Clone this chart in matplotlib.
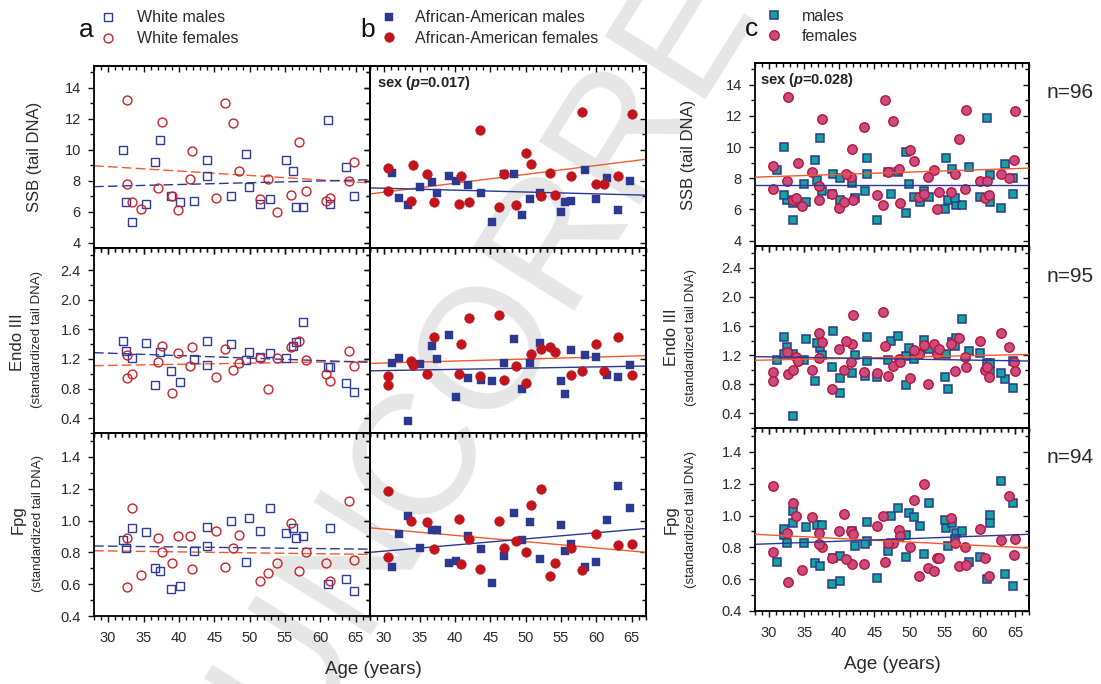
import numpy as np
import matplotlib
matplotlib.use("Agg")
import matplotlib.pyplot as plt
from matplotlib.ticker import MultipleLocator, FormatStrFormatter

plt.rcParams['font.family'] = 'Liberation Sans'
plt.rcParams['mathtext.fontset'] = 'custom'
plt.rcParams['mathtext.it'] = 'Liberation Sans:italic:bold'
plt.rcParams['mathtext.rm'] = 'Liberation Sans:bold'

# ---------------------------------------------------------------- data
# White males
wm_age = [32.1, 32.5, 33.4, 35.3, 36.6, 37.3, 38.9, 40.1, 42.2, 43.9, 44.0, 47.4,
          49.5, 49.9, 51.5, 52.8, 55.2, 56.1, 56.6, 57.5, 61.0, 61.4, 63.6, 64.7]
wm_ssb = [10.0, 6.6, 5.3, 6.5, 9.2, 10.6, 7.0, 6.6, 6.7, 9.3, 8.3, 7.0,
          9.7, 7.6, 6.5, 6.8, 9.3, 8.6, 6.3, 6.3, 11.9, 6.5, 8.9, 7.0]
wm_endo = [1.45, 1.31, 1.21, 1.42, 0.85, 1.30, 1.04, 0.89, 1.20, 1.45, 1.12, 1.40,
           1.19, 1.30, 1.23, 1.28, 1.21, 1.38, 1.43, 1.70, 1.09, 1.09, 0.87, 0.75]
wm_fpg = [0.88, 0.825, 0.956, 0.93, 0.70, 0.68, 0.57, 0.59, 0.81, 0.96, 0.84, 1.00,
          0.74, 1.015, 0.935, 1.08, 0.92, 0.955, 0.89, 0.90, 0.60, 0.95, 0.63, 0.56]

# White females
wf_age = [32.6, 32.7, 33.4, 34.7, 37.1, 37.6, 39.0, 39.9, 41.6, 41.8, 45.3, 46.5,
          47.7, 48.5, 51.4, 52.6, 53.9, 55.9, 57.0, 57.9, 60.8, 61.3, 64.1, 64.8]
wf_ssb = [7.8, 13.2, 6.6, 6.2, 7.5, 11.8, 7.0, 6.1, 8.1, 9.9, 6.9, 13.0,
          11.7, 8.6, 6.8, 8.1, 6.0, 7.1, 10.5, 7.3, 6.7, 6.9, 8.0, 9.2]
wf_endo = [1.25, 0.94, 1.00, np.nan, 1.16, 1.38, 0.74, 1.28, 1.11, 1.36, 0.96, 1.33,
           1.05, 1.15, 1.21, 0.80, 1.22, 1.36, 1.44, 1.18, 1.00, 0.90, 1.31, 1.10]
wf_fpg = [0.89, 0.58, 1.08, 0.655, 0.89, 0.80, 0.73, 0.90, 0.90, 0.695, 0.935, 0.71,
          0.83, 0.91, 0.62, 0.67, 0.73, 0.985, 0.68, 0.80, 0.73, 0.62, 1.12, 0.75]

# African-American males
am_age = [31.1, 32.1, 33.4, 35.0, 36.8, 37.5, 39.1, 40.1, 41.8, 43.7, 45.3, 47.0,
          48.3, 49.5, 50.6, 52.0, 55.0, 55.5, 56.4, 58.4, 60.0, 61.5, 63.0, 64.7]
am_ssb = [8.5, 6.9, 6.4, 7.6, 7.9, 7.2, 8.3, 8.0, 7.7, 7.2, 5.3, 8.4,
          8.4, 5.8, 6.8, 7.2, 6.0, 6.6, 6.7, 8.7, 6.8, 8.2, 6.1, 8.0]
am_endo = [1.14, 1.21, 0.36, 1.13, 1.37, 1.20, 1.53, 0.68, 0.95, 0.92, 0.90, 1.14,
           1.47, 0.79, 1.15, 1.41, 0.90, 0.73, 1.32, 1.26, 1.23, 0.98, 0.96, 1.12]
am_fpg = [0.71, 0.915, 1.03, 0.83, 0.94, 0.94, 0.73, 0.745, 0.90, 0.82, 0.61, 0.78,
          1.045, 0.875, 0.99, 0.76, 0.97, 0.81, 0.85, 0.71, 0.74, 1.005, 1.22, 1.08]

# African-American females
af_age = [30.5, 30.5, 33.8, 34.1, 36.1, 37.1, 40.6, 40.9, 42.0, 43.5, 46.2, 47.0,
          48.6, 50.1, 50.7, 52.1, 53.5, 54.2, 56.4, 58.0, 60.0, 61.0, 63.0, 65.0]
af_ssb = [8.8, 7.3, 6.7, 9.0, 8.4, 6.6, 6.5, 8.3, 6.6, 11.3, 6.3, 8.4,
          6.4, 9.8, 9.1, 7.0, 8.5, 7.1, 8.3, 12.4, 7.8, 7.8, 8.3, 12.3]
af_endo = [0.97, 0.85, 1.17, 1.12, 1.00, 1.50, 1.00, 1.40, 1.75, 0.97, 1.80, 0.91,
           1.11, 0.88, 1.27, 1.34, 1.36, 1.29, 0.98, 1.04, 1.40, 1.04, 1.50, 0.98]
af_fpg = [1.185, 0.77, 1.00, np.nan, 0.99, 0.82, 1.01, 0.725, 0.885, 0.695, 1.00, 0.83,
          0.87, 0.80, 1.10, 1.20, 0.65, 0.73, 0.83, 0.69, 0.915, np.nan, 0.845, 0.85]

# Regression lines, value at the two ends of the age axis
trend_age = [28, 67]
trend_a = {'ssb': ([7.61, 8.06], [8.96, 7.85]),
           'endo': ([1.286, 1.155], [1.11, 1.17]),
           'fpg': ([0.84, 0.82], [0.81, 0.787])}
trend_b = {'ssb': ([7.53, 7.06], [7.14, 9.38]),
           'endo': ([1.04, 1.105], [1.14, 1.245]),
           'fpg': ([0.80, 0.95], [0.954, 0.80])}
trend_c = {'ssb': ([7.57, 7.57], [8.07, 8.65]),
           'endo': ([1.18, 1.12], [1.13, 1.21]),
           'fpg': ([0.819, 0.882], [0.882, 0.796])}

measures = ['ssb', 'endo', 'fpg']
sample_sizes = ['n=96', 'n=95', 'n=94']
sex_p_b = '0.017'
sex_p_c = '0.028'

# ---------------------------------------------------------------- style
NAVY = '#2b3990'
OPEN_BLUE = '#2f3c98'
OPEN_RED = '#c9232b'
FILL_RED = '#c1141d'
LINE_RED = '#f15a2b'
TEAL = '#13a49c'
PINK = '#c94b86'
CRIMSON = '#bb1530'
TXT = '#2a2a2a'

W, H = 1101, 684
fig = plt.figure(figsize=(W / 100, H / 100), dpi=100)
fig.patch.set_facecolor('white')


def fx(px):
    return px / W


def fy(py):
    return 1 - py / H


def box(x0, x1, y0, y1):
    return [x0 / W, 1 - y1 / H, (x1 - x0) / W, (y1 - y0) / H]


yspec = {'ssb': dict(lim=(3.65, 15.4), major=2, minor=1, fmt='%d'),
         'endo': dict(lim=(0.2, 2.7), major=0.4, minor=0.2, fmt='%.1f'),
         'fpg': dict(lim=(0.4, 1.55), major=0.2, minor=0.1, fmt='%.1f')}


def style_axes(ax, m, ylabels, xlabels):
    s = yspec[m]
    ax.set_facecolor('none')
    ax.set_xlim(28, 67)
    ax.set_ylim(*s['lim'])
    ax.xaxis.set_major_locator(MultipleLocator(5))
    ax.xaxis.set_minor_locator(MultipleLocator(1))
    ax.yaxis.set_major_locator(MultipleLocator(s['major']))
    ax.yaxis.set_minor_locator(MultipleLocator(s['minor']))
    ax.yaxis.set_major_formatter(FormatStrFormatter(s['fmt']))
    for sp in ax.spines.values():
        sp.set_linewidth(1.3)
    ax.tick_params(which='both', direction='out', top=False, right=False,
                   width=1.0, color='#111111', labelcolor=TXT, labelsize=10.5,
                   labelleft=ylabels, labelbottom=xlabels)
    ax.tick_params(which='major', length=4.5)
    ax.tick_params(which='minor', length=2.6)
    ax.tick_params(axis='x', pad=6)
    ax.tick_params(axis='y', pad=5)
    # inward ticks along the top and right edges
    top = ax.secondary_xaxis('top')
    top.xaxis.set_major_locator(MultipleLocator(5))
    top.xaxis.set_minor_locator(MultipleLocator(1))
    top.tick_params(which='both', direction='in', labeltop=False, width=1.0, color='#111111')
    top.tick_params(which='major', length=4.5)
    top.tick_params(which='minor', length=2.6)
    top.spines['top'].set_linewidth(1.3)
    right = ax.secondary_yaxis('right')
    right.yaxis.set_major_locator(MultipleLocator(s['major']))
    right.yaxis.set_minor_locator(MultipleLocator(s['minor']))
    right.tick_params(which='both', direction='in', labelright=False, width=1.0, color='#111111')
    right.tick_params(which='major', length=4.5)
    right.tick_params(which='minor', length=2.6)
    right.spines['right'].set_linewidth(1.3)


rows_ab = [(66, 248), (248, 433), (433, 616)]
rows_c = [(63, 246), (246, 428), (428, 611)]

groups = {
    'wm': (wm_age, {'ssb': wm_ssb, 'endo': wm_endo, 'fpg': wm_fpg}),
    'wf': (wf_age, {'ssb': wf_ssb, 'endo': wf_endo, 'fpg': wf_fpg}),
    'am': (am_age, {'ssb': am_ssb, 'endo': am_endo, 'fpg': am_fpg}),
    'af': (af_age, {'ssb': af_ssb, 'endo': af_endo, 'fpg': af_fpg}),
}

sty_a_m = dict(ls='none', marker='s', ms=5.2, mfc='none', mec=OPEN_BLUE, mew=1.0, zorder=3)
sty_a_f = dict(ls='none', marker='o', ms=6.4, mfc='none', mec=OPEN_RED, mew=1.0, zorder=3)
sty_b_m = dict(ls='none', marker='s', ms=5.6, mfc=NAVY, mec=NAVY, mew=0.3, zorder=3)
sty_b_f = dict(ls='none', marker='o', ms=7.0, mfc=FILL_RED, mec=FILL_RED, mew=0.3, zorder=3)
sty_c_m = dict(ls='none', marker='s', ms=5.6, mfc=TEAL, mec=NAVY, mew=1.1, zorder=3)
sty_c_f = dict(ls='none', marker='o', ms=6.8, mfc=PINK, mec=CRIMSON, mew=1.0, zorder=3)

for i, m in enumerate(measures):
    y0, y1 = rows_ab[i]
    bottom = (i == 2)
    # panel a: white participants
    ax = fig.add_axes(box(94, 370, y0, y1))
    style_axes(ax, m, True, bottom)
    tm, tf = trend_a[m]
    ax.plot(trend_age, tf, color=LINE_RED, lw=1.0, dashes=(7, 3), zorder=2)
    ax.plot(trend_age, tm, color=NAVY, lw=1.0, dashes=(7, 3), zorder=2)
    ax.plot(groups['wm'][0], groups['wm'][1][m], **sty_a_m)
    ax.plot(groups['wf'][0], groups['wf'][1][m], **sty_a_f)

    # panel b: African-American participants
    ax = fig.add_axes(box(370, 646, y0, y1))
    style_axes(ax, m, False, bottom)
    tm, tf = trend_b[m]
    ax.plot(trend_age, tf, color=LINE_RED, lw=1.0, zorder=2)
    ax.plot(trend_age, tm, color=NAVY, lw=1.0, zorder=2)
    ax.plot(groups['am'][0], groups['am'][1][m], **sty_b_m)
    ax.plot(groups['af'][0], groups['af'][1][m], **sty_b_f)
    if i == 0:
        ax.text(0.025, 0.955, r'sex ($p$=' + sex_p_b + ')', transform=ax.transAxes,
                ha='left', va='top', fontsize=10.5, fontweight='bold', color='#222222')

    # panel c: all participants
    c0, c1 = rows_c[i]
    ax = fig.add_axes(box(755, 1029, c0, c1))
    style_axes(ax, m, True, bottom)
    tm, tf = trend_c[m]
    male_age = list(groups['wm'][0]) + list(groups['am'][0])
    male_val = list(groups['wm'][1][m]) + list(groups['am'][1][m])
    fem_age = list(groups['wf'][0]) + list(groups['af'][0])
    fem_val = list(groups['wf'][1][m]) + list(groups['af'][1][m])
    ax.plot(male_age, male_val, **sty_c_m)
    ax.plot(fem_age, fem_val, **sty_c_f)
    ax.plot(trend_age, tf, color=LINE_RED, lw=1.0, zorder=4)
    ax.plot(trend_age, tm, color=NAVY, lw=1.0, zorder=4)
    if i == 0:
        ax.text(0.02, 0.955, r'sex ($p$=' + sex_p_c + ')', transform=ax.transAxes,
                ha='left', va='top', fontsize=10.5, fontweight='bold', color='#222222')

# ---------------------------------------------------------------- labels
ov = fig.add_axes([0, 0, 1, 1], zorder=5)
ov.set_xlim(0, W)
ov.set_ylim(H, 0)
ov.axis('off')
ov.patch.set_alpha(0)

for letter, x, yb in [('a', 79, 37), ('b', 360, 37), ('c', 745, 36)]:
    ov.text(x, yb, letter, fontsize=19, color='#111111', ha='left', va='baseline')

legend_rows = [
    (108, 137, sty_a_m, sty_a_f, 'White males', 'White females', (17, 38), (22, 43)),
    (389, 415, sty_b_m, sty_b_f, 'African-American males', 'African-American females', (17, 37), (22, 43)),
    (774, 802, sty_c_m, sty_c_f, 'males', 'females', (15, 35), (21, 41)),
]
for mx, tx, sm, sf, lm, lf, (ym, yf), (bm, bf) in legend_rows:
    ov.plot([mx], [ym], **sm)
    ov.plot([mx], [yf], **sf)
    ov.text(tx, bm, lm, fontsize=11.5, color=TXT, ha='left', va='baseline')
    ov.text(tx, bf, lf, fontsize=11.5, color=TXT, ha='left', va='baseline')

ylab_main = ['SSB (tail DNA)', 'Endo III', 'Fpg']
ylab_sub = [None, '(standardized tail DNA)', '(standardized tail DNA)']
pos_a = [(34.5, 157, None), (18, 342, (37.5, 340)), (18, 520, (38, 524))]
pos_c = [(689, 155, None), (671, 337, (691, 337)), (671, 520, (691, 519))]
for lab, sub, pa, pc in zip(ylab_main, ylab_sub, pos_a, pos_c):
    for (x, y, sp) in (pa, pc):
        ov.text(x, y, lab, rotation=90, fontsize=12, color=TXT, ha='center', va='center')
        if sub:
            ov.text(sp[0], sp[1], sub, rotation=90, fontsize=9.5, color=TXT,
                    ha='center', va='center')

ov.text(373, 674, 'Age (years)', fontsize=13.5, color=TXT, ha='center', va='baseline')
ov.text(892, 669, 'Age (years)', fontsize=13.5, color=TXT, ha='center', va='baseline')

for lab, yb in zip(sample_sizes, [98, 282, 463]):
    ov.text(1047, yb, lab, fontsize=15, color=TXT, ha='left', va='baseline')

# proof watermark beneath the data
fig.text(fx(298), fy(752), 'UNCORRECTED PROOF', rotation=58, rotation_mode='anchor',
         ha='left', va='baseline', fontsize=124, color='#e6e6e6', zorder=-10)

fig.savefig('out.png', dpi=100, facecolor='white')
